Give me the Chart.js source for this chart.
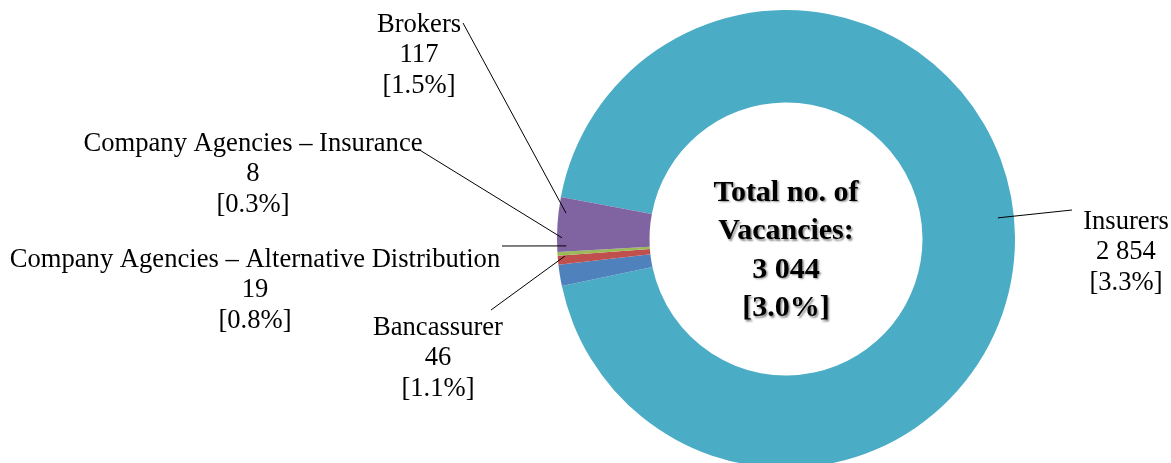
<!DOCTYPE html>
<html>
<head>
<meta charset="utf-8">
<script src="https://cdn.jsdelivr.net/npm/chart.js@4"></script>
<style>
  html, body { margin: 0; padding: 0; background: #fff; overflow: hidden; }
  canvas { display: block; }
</style>
</head>
<body>
<!-- the ring runs a few pixels past the bottom edge, as in the original -->
<canvas id="vacancyChart" width="1171" height="468"></canvas>
<script>
// data
const categories = ['Insurers', 'Bancassurer', 'Company Agencies – Alternative Distribution', 'Company Agencies – Insurance', 'Brokers'];
const vacancies = [2854, 46, 19, 8, 117];
const vacancyRates = ['3.3%', '1.1%', '0.8%', '0.3%', '1.5%'];
const totalRate = '3.0%';
const colors = ['#4BACC6', '#4F81BD', '#C0504D', '#9BBB59', '#8064A2'];

// where each label sits: text centre x, first line y, leader start,
// and where the leader meets the ring (canvas angle in degrees, share of radius)
const labelLayout = [
  { x: 1126, y: 222, from: [1072, 210], angle: -5.7, r: 0.93 },
  { x: 438, y: 328, from: [491, 310], angle: 175.6, r: 0.968 },
  { x: 255, y: 260, from: [502, 246], angle: 178.2, r: 0.96 },
  { x: 253, y: 144, from: [418, 149], angle: 180.3, r: 0.978 },
  { x: 419, y: 25, from: [463, 23], angle: 186.7, r: 0.967 }
];

const fmt = n => n.toString().replace(/\B(?=(\d{3})+(?!\d))/g, ' ');

const labelPlugin = {
  id: 'sliceLabels',
  afterDraw(chart) {
    const ctx = chart.ctx;
    const arc = chart.getDatasetMeta(0).data[0];
    const cx = arc.x, cy = arc.y, R = arc.outerRadius;
    ctx.save();
    ctx.strokeStyle = '#000';
    ctx.lineWidth = 1;
    ctx.fillStyle = '#000';
    ctx.font = '26.6px "Liberation Serif", "Times New Roman", serif';
    ctx.textAlign = 'center';
    ctx.textBaseline = 'middle';
    labelLayout.forEach((p, i) => {
      const a = p.angle * Math.PI / 180;
      ctx.beginPath();
      ctx.moveTo(p.from[0], p.from[1]);
      ctx.lineTo(cx + Math.cos(a) * R * p.r, cy + Math.sin(a) * R * p.r);
      ctx.stroke();
      const lines = [categories[i], fmt(vacancies[i]), '[' + vacancyRates[i] + ']'];
      lines.forEach((t, k) => ctx.fillText(t, p.x, p.y + k * 30.5));
    });

    // centre text
    const total = vacancies.reduce((s, v) => s + v, 0);
    const centre = ['Total no. of', 'Vacancies:', fmt(total), '[' + totalRate + ']'];
    ctx.font = 'bold 30px "Liberation Serif", "Times New Roman", serif';
    ctx.shadowColor = 'rgba(0,0,0,0.45)';
    ctx.shadowOffsetX = 1.5;
    ctx.shadowOffsetY = 1.5;
    ctx.shadowBlur = 2;
    centre.forEach((t, k) => ctx.fillText(t, cx, 193 + k * 38.5));
    ctx.restore();
  }
};

new Chart(document.getElementById('vacancyChart'), {
  type: 'doughnut',
  data: {
    labels: categories,
    datasets: [{
      data: vacancies,
      backgroundColor: colors,
      borderWidth: 0,
      hoverOffset: 0,
      offset: 0
    }]
  },
  options: {
    responsive: false,
    animation: false,
    rotation: 280.6,
    cutout: '59.6%',
    layout: { padding: { left: 557, top: 10, right: 156, bottom: 0 } },
    plugins: {
      legend: { display: false },
      tooltip: { enabled: false }
    }
  },
  plugins: [labelPlugin]
});
</script>
</body>
</html>
